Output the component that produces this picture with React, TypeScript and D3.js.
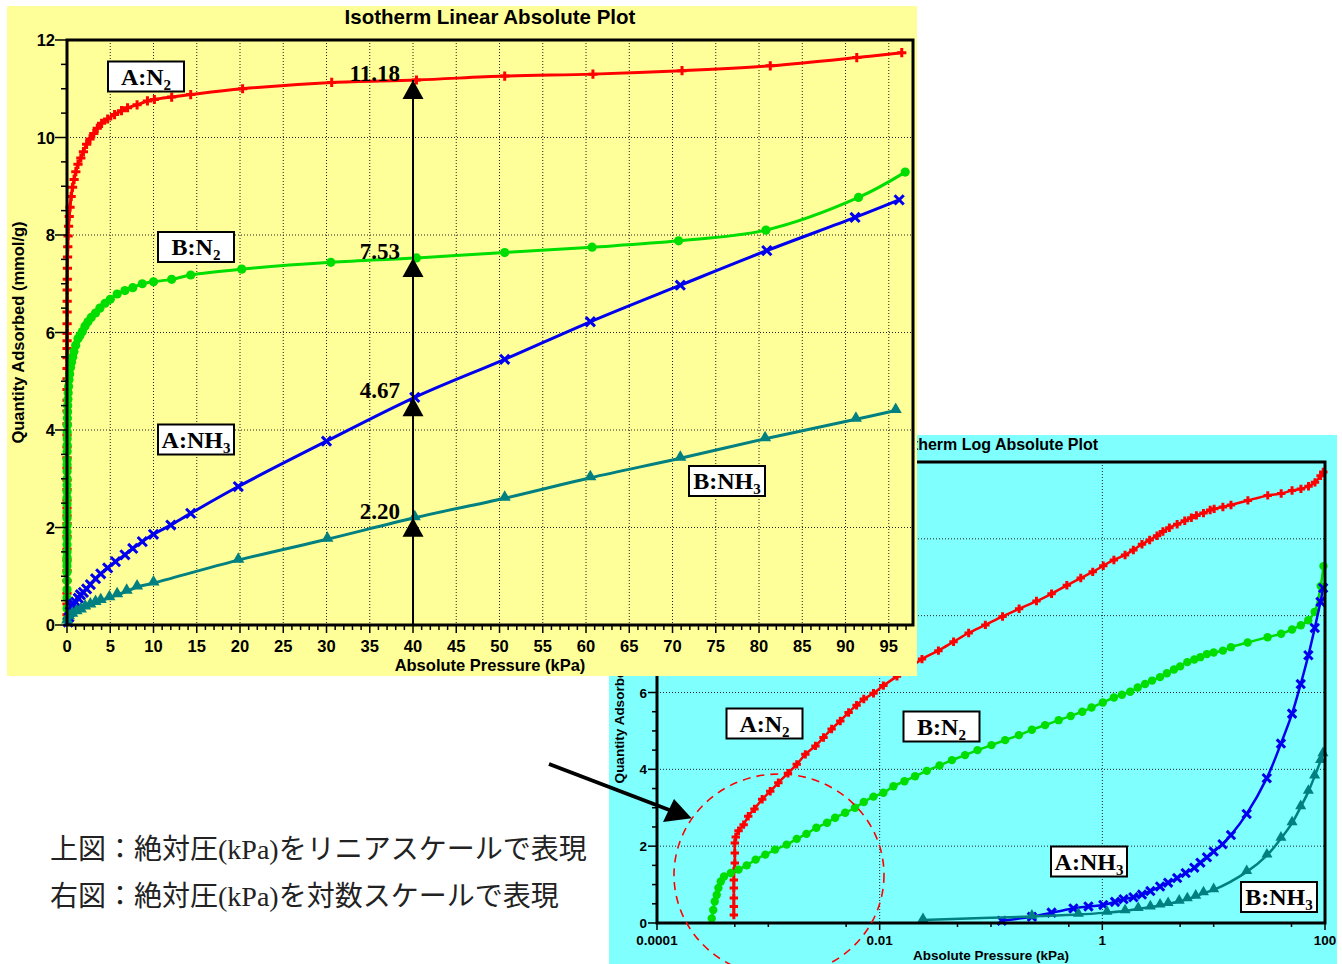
import React from "react";
import * as d3 from "d3";

// ---- data (pressure in kPa, quantity in mmol/g) ----
const aN2Pressure = [
  0.00049, 0.00049, 0.00049, 0.00049, 0.00049, 0.00049, 0.0005, 0.0005, 0.0005, 0.00051, 0.00054, 0.0006,
  0.00066, 0.00075, 0.00088, 0.00104, 0.00123, 0.0015, 0.0018, 0.00215, 0.00265, 0.00313, 0.0037, 0.00443,
  0.00526, 0.0062, 0.0072, 0.0088, 0.0108, 0.0143, 0.0185, 0.024, 0.0337, 0.0461, 0.063, 0.089, 0.127, 0.179,
  0.256, 0.35, 0.48, 0.64, 0.82, 1.02, 1.27, 1.6, 1.9, 2.27, 2.66, 3.1, 3.5, 4.0, 4.7, 5.5, 6.3, 7.0, 8.1, 9.3,
  10.1, 12.1, 14.3, 20.3, 30.6, 40.4, 50.6, 60.8, 71.1, 81.3, 91.3, 96.5,
];
const aN2Quantity = [
  0.21, 0.43, 0.65, 0.91, 1.12, 1.34, 1.56, 1.82, 2.08, 2.24, 2.4, 2.56, 2.78, 2.97, 3.22, 3.43, 3.65, 3.9,
  4.13, 4.39, 4.61, 4.83, 5.05, 5.26, 5.48, 5.67, 5.83, 5.98, 6.18, 6.42, 6.64, 6.87, 7.09, 7.32, 7.55, 7.76,
  7.98, 8.18, 8.38, 8.57, 8.79, 8.98, 9.14, 9.3, 9.45, 9.58, 9.71, 9.86, 9.97, 10.08, 10.19, 10.29, 10.38,
  10.47, 10.55, 10.61, 10.67, 10.75, 10.78, 10.83, 10.88, 11.0, 11.13, 11.18, 11.26, 11.3, 11.37, 11.47,
  11.64, 11.74,
];

const bN2Pressure = [
  0.00031, 0.00032, 0.00033, 0.000344, 0.000356, 0.000374, 0.0004, 0.00046, 0.00054, 0.00064, 0.00077,
  0.00094, 0.00115, 0.00146, 0.0018, 0.0022, 0.0027, 0.00337, 0.00398, 0.0049, 0.006, 0.0072, 0.0088, 0.0108,
  0.0133, 0.0167, 0.0208, 0.0265, 0.0345, 0.0446, 0.0585, 0.0756, 0.101, 0.134, 0.178, 0.233, 0.306, 0.405,
  0.52, 0.66, 0.8, 1.01, 1.27, 1.5, 1.78, 2.08, 2.42, 2.8, 3.3, 3.8, 4.4, 5.0, 5.8, 6.7, 7.6, 8.7, 10.0, 12.1,
  14.3, 20.2, 30.5, 40.4, 50.6, 60.7, 70.7, 80.8, 91.5, 96.9,
];
const bN2Quantity = [
  0.12, 0.34, 0.56, 0.73, 0.91, 1.08, 1.21, 1.3, 1.39, 1.5, 1.65, 1.78, 1.91, 2.04, 2.19, 2.32, 2.48, 2.61,
  2.74, 2.87, 3.0, 3.15, 3.29, 3.39, 3.56, 3.69, 3.82, 3.96, 4.1, 4.24, 4.37, 4.5, 4.63, 4.76, 4.89, 5.03,
  5.15, 5.28, 5.39, 5.5, 5.61, 5.74, 5.87, 5.94, 6.02, 6.13, 6.22, 6.31, 6.4, 6.5, 6.6, 6.68, 6.79, 6.86,
  6.92, 7.0, 7.04, 7.09, 7.18, 7.3, 7.44, 7.53, 7.64, 7.75, 7.88, 8.1, 8.77, 9.29,
];

const aNH3Pressure = [
  0.125, 0.233, 0.35, 0.55, 0.75, 1.02, 1.3, 1.55, 1.9, 2.27, 2.7, 3.3, 3.9, 4.7, 5.6, 6.7, 7.6, 8.7, 10.0,
  12.0, 14.3, 19.8, 30.0, 40.2, 50.6, 60.5, 70.9, 80.9, 91.1, 96.2,
];
const aNH3Quantity = [
  0.06, 0.16, 0.27, 0.38, 0.43, 0.47, 0.55, 0.62, 0.67, 0.74, 0.83, 0.95, 1.05, 1.17, 1.3, 1.44, 1.57, 1.71,
  1.86, 2.05, 2.29, 2.84, 3.77, 4.67, 5.45, 6.22, 6.97, 7.68, 8.36, 8.72,
];

const bNH3Pressure = [
  0.0245, 0.233, 0.61, 1.1, 1.6, 2.1, 2.7, 3.3, 3.9, 4.9, 5.8, 6.9, 8.1, 10.0, 19.8, 30.1, 40.2, 50.6, 60.5,
  70.9, 80.7, 91.2, 95.8,
];
const bNH3Quantity = [
  0.08, 0.17, 0.22, 0.27, 0.31, 0.37, 0.41, 0.46, 0.5, 0.56, 0.62, 0.69, 0.78, 0.86, 1.33, 1.76, 2.2, 2.6,
  3.02, 3.42, 3.82, 4.22, 4.4,
];

const seriesNames = ["A:N", "B:N", "A:NH", "B:NH"];
const seriesSubs = ["2", "2", "3", "3"];

// readout at 40 kPa on the linear plot
const readoutPressure = 40;
const readoutValues = [11.18, 7.53, 4.67, 2.2];
const readoutLabels = ["11.18", "7.53", "4.67", "2.20"];

const linearXTicks = d3.range(0, 96, 5);
const linearYTicks = [0, 2, 4, 6, 8, 10, 12];
const logXTicks = [0.0001, 0.01, 1, 100];
const logXTickLabels = ["0.0001", "0.01", "1", "100"];
const logXMinorTicks = [0.0005, 0.001, 0.005, 0.05, 0.1, 0.5, 5, 10, 50];
const logYTicks = [0, 2, 4, 6, 8, 10, 12];

const captionLines = [
  "上図：絶対圧(kPa)をリニアスケールで表現",
  "右図：絶対圧(kPa)を対数スケールで表現",
];

type Pt = { p: number; q: number };
const zip = (ps: number[], qs: number[]): Pt[] => ps.map((p, i) => ({ p, q: qs[i] }));

const series = [
  { color: "#ff0000", marker: "plus", data: zip(aN2Pressure, aN2Quantity) },
  { color: "#00dd00", marker: "circle", data: zip(bN2Pressure, bN2Quantity) },
  { color: "#0000ee", marker: "cross", data: zip(aNH3Pressure, aNH3Quantity) },
  { color: "#008080", marker: "triangle", data: zip(bNH3Pressure, bNH3Quantity) },
];

const SANS = "'Liberation Sans', Arial, sans-serif";
const SERIF = "'Liberation Serif', 'Times New Roman', serif";

function Marker({ kind, x, y, s, color }: any) {
  if (kind === "plus")
    return <path d={`M${x - s},${y}H${x + s}M${x},${y - s}V${y + s}`} stroke={color} strokeWidth={3} />;
  if (kind === "cross")
    return (
      <path
        d={`M${x - s},${y - s}L${x + s},${y + s}M${x - s},${y + s}L${x + s},${y - s}`}
        stroke={color}
        strokeWidth={3}
      />
    );
  if (kind === "circle") return <circle cx={x} cy={y} r={s} fill={color} />;
  return (
    <path
      transform={`translate(${x},${y - 1})`}
      d={d3.symbol(d3.symbolTriangle, s * s * 3)() as string}
      fill={color}
    />
  );
}

function Series({ xs, ys, size, width }: any) {
  const line = d3
    .line<Pt>()
    .x((d) => xs(d.p))
    .y((d) => ys(d.q))
    .curve(d3.curveCatmullRom.alpha(0.5));
  return (
    <g>
      {series.map((s, i) => (
        <g key={i}>
          <path d={line(s.data) as string} fill="none" stroke={s.color} strokeWidth={width} />
          {s.data.map((d, j) => (
            <Marker key={j} kind={s.marker} x={xs(d.p)} y={ys(d.q)} s={size} color={s.color} />
          ))}
        </g>
      ))}
    </g>
  );
}

function LabelBox({ cx, cy, idx }: any) {
  return (
    <g>
      <rect x={cx - 38} y={cy - 15} width={76} height={30} fill="#fff" stroke="#000" strokeWidth={2} />
      <text x={cx} y={cy + 8} textAnchor="middle" fontFamily={SERIF} fontWeight="bold" fontSize={24}>
        {seriesNames[idx]}
        <tspan fontSize={15} dy={5}>
          {seriesSubs[idx]}
        </tspan>
      </text>
    </g>
  );
}

function LinearPlot() {
  const x = d3.scaleLinear().domain([0, 97.8]).range([67, 913]);
  const y = d3.scaleLinear().domain([0, 12]).range([625, 40]);
  const [x0, x1] = x.range();
  const [y0, y1] = y.range();
  const rx = x(readoutPressure);

  return (
    <g>
      <rect x={7} y={6} width={910} height={670} fill="#ffff99" />
      <text x={(x0 + x1) / 2} y={24} textAnchor="middle" fontFamily={SANS} fontWeight="bold" fontSize={20.5}>
        Isotherm Linear Absolute Plot
      </text>

      {/* grid */}
      <g stroke="#222" strokeWidth={1} strokeDasharray="1 2">
        {linearXTicks.slice(1).map((t) => (
          <line key={t} x1={x(t)} x2={x(t)} y1={y1} y2={y0} />
        ))}
        {linearYTicks.slice(1, -1).map((t) => (
          <line key={t} x1={x0} x2={x1} y1={y(t)} y2={y(t)} />
        ))}
      </g>

      <Series xs={x} ys={y} size={4.6} width={3} />

      {/* frame and ticks */}
      <rect x={x0} y={y1} width={x1 - x0} height={y0 - y1} fill="none" stroke="#000" strokeWidth={3} />
      <g stroke="#000" strokeWidth={1.5}>
        {d3.range(0, 98, 1).map((t) => (
          <line key={t} x1={x(t)} x2={x(t)} y1={y0} y2={y0 + (t % 5 === 0 ? 8 : 5)} />
        ))}
        {d3.range(0, 12.01, 0.5).map((t) => (
          <line key={t} x1={x0 - (t % 2 === 0 ? 12 : 6)} x2={x0} y1={y(t)} y2={y(t)} />
        ))}
      </g>
      <g fontFamily={SANS} fontWeight="bold" fontSize={16.5}>
        {linearXTicks.map((t) => (
          <text key={t} x={x(t)} y={652} textAnchor="middle">
            {t}
          </text>
        ))}
        {linearYTicks.map((t) => (
          <text key={t} x={55} y={y(t) + 6} textAnchor="end">
            {t}
          </text>
        ))}
        <text x={(x0 + x1) / 2} y={671} textAnchor="middle">
          Absolute Pressure (kPa)
        </text>
        <text transform={`translate(24,${(y0 + y1) / 2}) rotate(-90)`} textAnchor="middle">
          Quantity Adsorbed (mmol/g)
        </text>
      </g>

      {/* readout at 40 kPa */}
      <line x1={rx} x2={rx} y1={y0} y2={y(readoutValues[0])} stroke="#000" strokeWidth={2} />
      {readoutValues.map((v, i) => (
        <g key={i}>
          <path d={`M${rx},${y(v)}L${rx - 10.5},${y(v) + 19}L${rx + 10.5},${y(v) + 19}Z`} fill="#000" />
          <text x={rx - 13} y={y(v) + 1} textAnchor="end" fontFamily={SERIF} fontWeight="bold" fontSize={23}>
            {readoutLabels[i]}
          </text>
        </g>
      ))}

      <LabelBox cx={146} cy={76.5} idx={0} />
      <LabelBox cx={196} cy={247} idx={1} />
      <LabelBox cx={196} cy={439.5} idx={2} />
      <LabelBox cx={727} cy={481} idx={3} />
    </g>
  );
}

function LogPlot() {
  const x = d3.scaleLog().domain([1e-4, 100]).range([657, 1325]);
  const y = d3.scaleLinear().domain([0, 12]).range([923, 462]);
  const [x0, x1] = x.range();
  const [y0, y1] = y.range();

  return (
    <g>
      <rect x={609} y={435} width={728} height={529} fill="#80ffff" />
      <text x={1098} y={450} textAnchor="end" fontFamily={SANS} fontWeight="bold" fontSize={16}>
        Isotherm Log Absolute Plot
      </text>

      <g stroke="#222" strokeWidth={1} strokeDasharray="1 2">
        {logXTicks.slice(1, -1).map((t) => (
          <line key={t} x1={x(t)} x2={x(t)} y1={y1} y2={y0} />
        ))}
        {logYTicks.slice(1, -1).map((t) => (
          <line key={t} x1={x0} x2={x1} y1={y(t)} y2={y(t)} />
        ))}
      </g>

      <Series xs={x} ys={y} size={4.2} width={2.5} />

      <rect x={x0} y={y1} width={x1 - x0} height={y0 - y1} fill="none" stroke="#000" strokeWidth={3} />
      <g stroke="#000" strokeWidth={1.5}>
        {logXTicks.map((t) => (
          <line key={t} x1={x(t)} x2={x(t)} y1={y0} y2={y0 + 7} />
        ))}
        {logXMinorTicks.map((t) => (
          <line key={t} x1={x(t)} x2={x(t)} y1={y0} y2={y0 + 4} />
        ))}
        {d3.range(0, 12.01, 0.5).map((t) => (
          <line key={t} x1={x0 - (t % 2 === 0 ? 9 : 5)} x2={x0} y1={y(t)} y2={y(t)} />
        ))}
      </g>
      <g fontFamily={SANS} fontWeight="bold" fontSize={13.5}>
        {logXTicks.map((t, i) => (
          <text key={t} x={x(t)} y={945} textAnchor="middle">
            {logXTickLabels[i]}
          </text>
        ))}
        {logYTicks.map((t) => (
          <text key={t} x={647} y={y(t) + 5} textAnchor="end">
            {t}
          </text>
        ))}
        <text x={991} y={960} textAnchor="middle">
          Absolute Pressure (kPa)
        </text>
        <text transform={`translate(624,${(y0 + y1) / 2}) rotate(-90)`} textAnchor="middle">
          Quantity Adsorbed (mmol/g)
        </text>
      </g>

      <LabelBox cx={764.5} cy={723.5} idx={0} />
      <LabelBox cx={941.5} cy={726.5} idx={1} />
      <LabelBox cx={1089} cy={861.5} idx={2} />
      <LabelBox cx={1279} cy={897} idx={3} />
    </g>
  );
}

export default function App() {
  return (
    <svg
      width={1342}
      height={964}
      style={{ position: "absolute", left: 0, top: 0, background: "#fff" }}
    >
      <LogPlot />
      <LinearPlot />

      {/* highlight of the low-pressure region */}
      <ellipse cx={779} cy={875} rx={105} ry={101} fill="none" stroke="#ff0000" strokeWidth={1.6} strokeDasharray="8 6" />
      <line x1={549} y1={764} x2={672} y2={811} stroke="#000" strokeWidth={4} />
      <path d="M691.7,818.3L663,822L674,799Z" fill="#000" />

      <g fontFamily={`${SERIF}, 'Noto Sans CJK JP'`} fontSize={28} fill="#222">
        <text x={50} y={859}>
          {captionLines[0]}
        </text>
        <text x={50} y={906}>
          {captionLines[1]}
        </text>
      </g>
    </svg>
  );
}
